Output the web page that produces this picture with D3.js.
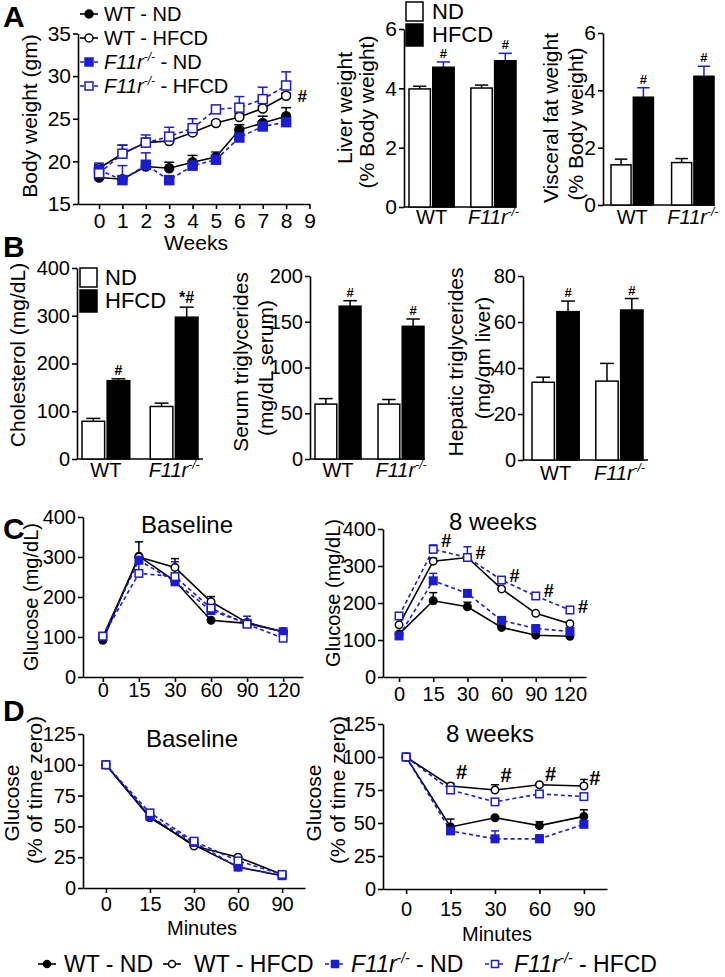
<!DOCTYPE html>
<html><head><meta charset="utf-8">
<script src="https://cdn.jsdelivr.net/npm/d3@7"></script>
<style>
html,body{margin:0;padding:0;background:#fff;}
svg{display:block;}
</style></head><body>
<svg id="fig" width="725" height="977"></svg>
<script>
// ---------------- DATA ----------------
const seriesGenotype = ["WT", "WT", "F11r", "F11r"];
const seriesDiet = ["ND", "HFCD", "ND", "HFCD"];

// Panel A: body weight over weeks
const weeks = [0, 1, 2, 3, 4, 5, 6, 7, 8];
const weekTicks = [0, 1, 2, 3, 4, 5, 6, 7, 8, 9];
const bwTicks = [15, 20, 25, 30, 35];
const bwWtNd = [18.1, 17.9, 19.4, 19.2, 19.9, 20.5, 23.7, 24.5, 25.3];
const bwWtNdErr = [0.3, 0, 0, 0.7, 0.8, 0, 0.6, 0.8, 1.0];
const bwWtHfcd = [19.2, 20.9, 22.2, 22.4, 23.4, 24.5, 25.2, 26.2, 27.7];
const bwWtHfcdErr = [0.4, 1.0, 0.5, 0.4, 0.3, 0.2, 0.4, 0.3, 0.3];
const bwKoNd = [19.0, 17.8, 19.6, 17.8, 19.5, 20.2, 22.8, 24.1, 24.6];
const bwKoNdErr = [0.6, 1.7, 1.4, 0, 0, 0.9, 0, 0.6, 0];
const bwKoHfcd = [18.6, 20.9, 22.2, 22.9, 23.9, 26.1, 26.3, 27.3, 28.9];
const bwKoHfcdErr = [1.2, 1.0, 0.9, 1.1, 1.1, 0.3, 1.3, 1.4, 1.6];

// Bar charts
const groups = ["WT", "F11r"];
const diets = ["ND", "HFCD"];
const liverTicks = [0, 2, 4, 6];
const liverNd = [3.98, 4.01], liverNdErr = [0.09, 0.10];
const liverHfcd = [4.71, 4.93], liverHfcdErr = [0.18, 0.25];
const liverSig = ["#", "#"];
const fatTicks = [0, 2, 4, 6];
const fatNd = [1.40, 1.48], fatNdErr = [0.20, 0.14];
const fatHfcd = [3.76, 4.49], fatHfcdErr = [0.33, 0.35];
const fatSig = ["#", "#"];
const cholTicks = [0, 100, 200, 300, 400];
const cholNd = [79, 110], cholNdErr = [6, 7];
const cholHfcd = [164, 297], cholHfcdErr = [4, 21];
const cholSig = ["#", "*#"];
const serumTicks = [0, 50, 100, 150, 200];
const serumNd = [60, 60], serumNdErr = [6, 5];
const serumHfcd = [167, 145], serumHfcdErr = [6, 8];
const serumSig = ["#", "#"];
const hepTicks = [0, 20, 40, 60, 80];
const hepNd = [33.8, 34.3], hepNdErr = [2.2, 7.7];
const hepHfcd = [64.5, 65.2], hepHfcdErr = [4.6, 5.0];
const hepSig = ["#", "#"];

// Panel C: glucose tolerance (mg/dL)
const gttMinutes = [0, 15, 30, 60, 90, 120];
const gttTicks = [0, 100, 200, 300, 400];
const gttBaseWtNd = [92, 302, 240, 142, 134, 113];
const gttBaseWtNdErr = [0, 36, 0, 0, 0, 0];
const gttBaseWtHfcd = [100, 300, 274, 188, 136, 113];
const gttBaseWtHfcdErr = [0, 0, 22, 13, 0, 0];
const gttBaseKoNd = [102, 292, 238, 166, 134, 113];
const gttBaseKoNdErr = [0, 10, 0, 0, 0, 0];
const gttBaseKoHfcd = [102, 259, 251, 172, 132, 97];
const gttBaseKoHfcdErr = [0, 25, 37, 0, 20, 0];
const gtt8WtNd = [116, 206, 190, 134, 113, 110];
const gtt8WtNdErr = [0, 22, 12, 0, 0, 0];
const gtt8WtHfcd = [141, 313, 323, 238, 172, 144];
const gtt8WtHfcdErr = [0, 8, 0, 0, 0, 0];
const gtt8KoNd = [111, 260, 226, 153, 131, 123];
const gtt8KoNdErr = [0, 20, 0, 0, 0, 0];
const gtt8KoHfcd = [165, 345, 323, 262, 219, 181];
const gtt8KoHfcdErr = [0, 12, 29, 8, 5, 0];
const gtt8SigLevel = [null, 368, 335, 273, 232, 189];

// Panel D: insulin tolerance (% of time zero)
const ittMinutes = [0, 15, 30, 60, 90];
const ittTicks = [0, 25, 50, 75, 100, 125];
const ittBaseWtNd = [100, 57, 35, 17, 10];
const ittBaseWtHfcd = [100, 58, 34, 25, 11];
const ittBaseKoNd = [100, 58, 37, 17, 10];
const ittBaseKoHfcd = [100, 61, 38, 22, 11];
const ittBaseErr = [0, 1, 1, 1, 1];
const itt8WtNd = [100, 47, 54, 48, 55];
const itt8WtNdErr = [0, 6, 1, 3, 5];
const itt8WtHfcd = [100, 78, 75, 79, 78];
const itt8WtHfcdErr = [0, 2, 4, 1, 5];
const itt8KoNd = [100, 44, 38, 38, 49];
const itt8KoNdErr = [0, 3, 6, 3, 1];
const itt8KoHfcd = [100, 75, 66, 72, 70];
const itt8KoHfcdErr = [0, 2, 1, 2, 1];
const itt8SigLevel = [null, 89, 86, 87, 84];

// ---------------- DRAWING ----------------
const FONT = '"Liberation Sans", Arial, Helvetica, sans-serif';
const BLUE = "#1c1cd0";
const fmt = d3.format("d");
const seriesStyle = [
  {color: "#000", dash: null, shape: "circle", filled: true},
  {color: "#000", dash: null, shape: "circle", filled: false},
  {color: BLUE, dash: "4,3", shape: "square", filled: true},
  {color: BLUE, dash: "4,3", shape: "square", filled: false}
];
const svg = d3.select("#fig").attr("font-family", FONT);

function axisStyle(g, fs) {
  g.attr("font-family", FONT).attr("font-size", fs);
  g.select(".domain").attr("stroke", "#000").attr("stroke-width", 1.6);
  g.selectAll(".tick line").attr("stroke", "#000").attr("stroke-width", 1.6);
  g.selectAll(".tick text").attr("fill", "#000");
}

function addF11r(t, fs, rest) {
  t.append("tspan").attr("font-style", "italic").text("F11r");
  t.append("tspan").attr("font-style", "italic").attr("font-size", fs * 0.6)
    .attr("dy", -fs * 0.42).text("-/-");
  if (rest) t.append("tspan").attr("dy", fs * 0.42).text(rest);
}

function marker(g, st, cx, cy, size) {
  const fill = st.filled ? st.color : "#fff";
  if (st.shape === "circle") {
    g.append("circle").attr("cx", cx).attr("cy", cy).attr("r", size / 2)
      .attr("fill", fill).attr("stroke", st.color).attr("stroke-width", 1.5);
  } else {
    g.append("rect").attr("x", cx - size / 2).attr("y", cy - size / 2)
      .attr("width", size).attr("height", size)
      .attr("fill", fill).attr("stroke", st.color).attr("stroke-width", 1.5);
  }
}

function errBar(g, x, y0, y1, cap, color) {
  g.append("line").attr("x1", x).attr("x2", x).attr("y1", y0).attr("y2", y1)
    .attr("stroke", color).attr("stroke-width", 1.5);
  g.append("line").attr("x1", x - cap / 2).attr("x2", x + cap / 2).attr("y1", y1).attr("y2", y1)
    .attr("stroke", color).attr("stroke-width", 1.5);
}

function vTitle(x, y, txt, fs) {
  svg.append("text").attr("transform", `translate(${x},${y}) rotate(-90)`)
    .attr("text-anchor", "middle").attr("font-size", fs).attr("fill", "#000").text(txt);
}
function hText(x, y, txt, fs, anchor, weight) {
  return svg.append("text").attr("x", x).attr("y", y).attr("text-anchor", anchor || "middle")
    .attr("font-size", fs).attr("font-weight", weight || "normal").attr("fill", "#000").text(txt);
}

function lineChart(o) {
  const g = svg.append("g");
  const ya = g.append("g").attr("transform", `translate(${o.x0},0)`)
    .call(d3.axisLeft(o.y).tickValues(o.yTicks).tickFormat(fmt).tickSize(5).tickPadding(2).tickSizeOuter(0));
  axisStyle(ya, o.fs);
  const xa = g.append("g").attr("transform", `translate(0,${o.y(o.yTicks[0])})`)
    .call(d3.axisBottom(o.x).tickValues(o.xTicks).tickFormat(fmt).tickSize(5).tickPadding(o.xPad).tickSizeOuter(0));
  axisStyle(xa, o.fs);
  const line = d3.line().x((d, j) => o.x(o.xVals[j])).y(d => o.y(d));
  o.series.forEach((s, i) => {
    const st = seriesStyle[i];
    g.append("path").attr("d", line(s.v)).attr("fill", "none").attr("stroke", st.color)
      .attr("stroke-width", 1.6).attr("stroke-dasharray", st.dash);
  });
  o.series.forEach((s, i) => {
    const st = seriesStyle[i];
    s.v.forEach((v, j) => {
      const e = s.e[j];
      if (e > 0) errBar(g, o.x(o.xVals[j]), o.y(v), o.y(v + e), o.cap, st.color);
    });
  });
  o.series.forEach((s, i) => {
    const st = seriesStyle[i];
    s.v.forEach((v, j) => marker(g, st, o.x(o.xVals[j]), o.y(v), o.ms));
  });
  return g;
}

function barChart(o) {
  const g = svg.append("g");
  const y = d3.scaleLinear().domain([0, o.ticks[o.ticks.length - 1]]).range([o.yb, o.yt]);
  const xb = d3.scaleBand().domain(groups).range([o.bx0, o.bx1]).paddingInner(o.pi).paddingOuter(0);
  const xi = d3.scaleBand().domain(diets).range([0, xb.bandwidth()]).paddingInner(0.1);
  const ya = g.append("g").attr("transform", `translate(${o.x0},0)`)
    .call(d3.axisLeft(y).tickValues(o.ticks).tickFormat(fmt).tickSize(5).tickPadding(2).tickSizeOuter(0));
  axisStyle(ya, o.tfs || 20);
  const xa = g.append("g").attr("transform", `translate(0,${o.yb})`)
    .call(d3.axisBottom(xb).tickSize(0).tickPadding(o.xPad));
  xa.select(".domain").attr("d", `M${o.x0},0H${o.xEnd}`);
  axisStyle(xa, 20);
  xa.selectAll(".tick text").each(function (d) {
    const t = d3.select(this);
    t.text(null);
    if (d === "WT") t.text("WT"); else addF11r(t, 20);
  });
  const vals = {ND: o.nd, HFCD: o.hf}, errs = {ND: o.ndE, HFCD: o.hfE};
  groups.forEach((gr, gi) => {
    diets.forEach(di => {
      const v = vals[di][gi], e = errs[di][gi];
      const bx = xb(gr) + xi(di), bw = xi.bandwidth();
      const ec = (di === "HFCD") ? o.hfErrColor : "#000";
      errBar(g, bx + bw / 2, y(v), y(v + e), bw * 0.62, ec);
      g.append("rect").attr("x", bx).attr("y", y(v)).attr("width", bw).attr("height", y(0) - y(v))
        .attr("fill", di === "ND" ? "#fff" : "#000").attr("stroke", "#000").attr("stroke-width", 1.5);
    });
    const hx = xb(gr) + xi("HFCD") + xi.bandwidth() / 2;
    g.append("text").attr("x", hx).attr("y", y(o.hf[gi] + o.hfE[gi]) - 4)
      .attr("text-anchor", "middle").attr("font-size", o.sigFs[gi]).attr("font-weight", "bold")
      .attr("fill", "#000").text(o.sig[gi]);
  });
  return g;
}

function barLegend(x, yND, yHF, textX, fs) {
  svg.append("rect").attr("x", x).attr("y", yND).attr("width", 17).attr("height", 19)
    .attr("fill", "#fff").attr("stroke", "#000").attr("stroke-width", 1.5);
  svg.append("rect").attr("x", x).attr("y", yHF).attr("width", 17).attr("height", 22)
    .attr("fill", "#000").attr("stroke", "#000").attr("stroke-width", 1.5);
  hText(textX, yND + 17, "ND", fs, "start");
  hText(textX, yHF + 18, "HFCD", fs, "start");
}

function legendItem(i, x, y, len, size, fs, textX) {
  const st = seriesStyle[i];
  svg.append("line").attr("x1", x).attr("x2", x + len).attr("y1", y).attr("y2", y)
    .attr("stroke", st.color).attr("stroke-width", 1.6).attr("stroke-dasharray", st.dash);
  marker(svg, st, x + len / 2, y, size);
  const t = svg.append("text").attr("x", textX).attr("y", y + fs * 0.36).attr("font-size", fs).attr("fill", "#000");
  if (seriesGenotype[i] === "WT") t.text("WT - " + seriesDiet[i]);
  else addF11r(t, fs, " - " + seriesDiet[i]);
}

// ===== Panel A: body weight =====
const xA = d3.scaleLinear().domain([-0.9, 9]).range([78, 309.5]);
const yA = d3.scaleLinear().domain([15, 35]).range([204, 33.5]);
lineChart({
  x: xA, y: yA, xVals: weeks, xTicks: weekTicks, yTicks: bwTicks, x0: 78, fs: 21, xPad: 4, ms: 9, cap: 10,
  series: [
    {v: bwWtNd, e: bwWtNdErr}, {v: bwWtHfcd, e: bwWtHfcdErr},
    {v: bwKoNd, e: bwKoNdErr}, {v: bwKoHfcd, e: bwKoHfcdErr}
  ]
});
hText(xA(8) + 16, yA(bwWtHfcd[8]) + 6, "#", 17, "middle", "bold");
vTitle(37, 116, "Body weight (gm)", 21);
hText(196, 250, "Weeks", 21);
[0, 1, 2, 3].forEach(i => legendItem(i, 80, 14 + i * 24, 18, 8, 20, 104));

barChart({x0: 404, bx0: 409, bx1: 516, xEnd: 516, pi: 0.27, yb: 207, yt: 29, ticks: liverTicks, xPad: 3, tfs: 21,
  nd: liverNd, ndE: liverNdErr, hf: liverHfcd, hfE: liverHfcdErr, sig: liverSig, sigFs: [13, 13], hfErrColor: BLUE});
vTitle(352, 108, "Liver weight", 21);
vTitle(374, 112, "(% Body weight)", 21);
barLegend(406, 2, 24, 432, 22);

barChart({x0: 603, bx0: 611, bx1: 714, xEnd: 715, pi: 0.3, yb: 205, yt: 33, ticks: fatTicks, xPad: 5, tfs: 21,
  nd: fatNd, ndE: fatNdErr, hf: fatHfcd, hfE: fatHfcdErr, sig: fatSig, sigFs: [13, 13], hfErrColor: BLUE});
vTitle(558, 118, "Visceral fat weight", 21);
vTitle(583, 124, "(% Body weight)", 21);

// ===== Panel B =====
barChart({x0: 77, bx0: 82, bx1: 198, xEnd: 203, pi: 0.3, yb: 459, yt: 268, ticks: cholTicks, xPad: 4,
  nd: cholNd, ndE: cholNdErr, hf: cholHfcd, hfE: cholHfcdErr, sig: cholSig, sigFs: [14, 16], hfErrColor: "#000"});
vTitle(25, 355, "Cholesterol (mg/dL)", 21);
barLegend(80, 268, 290, 105, 22);

barChart({x0: 310, bx0: 315, bx1: 424, xEnd: 425, pi: 0.27, yb: 459, yt: 276, ticks: serumTicks, xPad: 4,
  nd: serumNd, ndE: serumNdErr, hf: serumHfcd, hfE: serumHfcdErr, sig: serumSig, sigFs: [13, 13], hfErrColor: "#000"});
vTitle(248, 362, "Serum triglycerides", 21);
vTitle(273, 368, "(mg/dL serum)", 21);

barChart({x0: 523, bx0: 532, bx1: 643, xEnd: 648, pi: 0.26, yb: 460, yt: 276, ticks: hepTicks, xPad: 6,
  nd: hepNd, ndE: hepNdErr, hf: hepHfcd, hfE: hepHfcdErr, sig: hepSig, sigFs: [13, 13], hfErrColor: "#000"});
vTitle(463, 362, "Hepatic triglycerides", 21);
vTitle(490, 358, "(mg/gm liver)", 21);

// ===== Panel C =====
const xCb = d3.scalePoint().domain(gttMinutes).range([83, 303]).padding(0.55);
const yCb = d3.scaleLinear().domain([0, 400]).range([677, 517]);
lineChart({
  x: xCb, y: yCb, xVals: gttMinutes, xTicks: gttMinutes, yTicks: gttTicks, x0: 83, fs: 20, xPad: 1, ms: 7.5, cap: 8,
  series: [
    {v: gttBaseWtNd, e: gttBaseWtNdErr}, {v: gttBaseWtHfcd, e: gttBaseWtHfcdErr},
    {v: gttBaseKoNd, e: gttBaseKoNdErr}, {v: gttBaseKoHfcd, e: gttBaseKoHfcdErr}
  ]
});
vTitle(38, 597, "Glucose (mg/dL)", 20);
hText(187, 533, "Baseline", 24);

const xC8 = d3.scalePoint().domain(gttMinutes).range([383, 586]).padding(0.47);
const yC8 = d3.scaleLinear().domain([0, 400]).range([677, 529]);
lineChart({
  x: xC8, y: yC8, xVals: gttMinutes, xTicks: gttMinutes, yTicks: gttTicks, x0: 383, fs: 20, xPad: 5, ms: 7.5, cap: 8,
  series: [
    {v: gtt8WtNd, e: gtt8WtNdErr}, {v: gtt8WtHfcd, e: gtt8WtHfcdErr},
    {v: gtt8KoNd, e: gtt8KoNdErr}, {v: gtt8KoHfcd, e: gtt8KoHfcdErr}
  ]
});
gtt8SigLevel.forEach((lv, j) => {
  if (lv !== null) hText(xC8(gttMinutes[j]) + 13, yC8(lv) + 6, "#", 18, "middle", "bold");
});
vTitle(340, 593, "Glucose (mg/dL)", 20);
hText(493, 530, "8 weeks", 24);

// ===== Panel D =====
const xDb = d3.scalePoint().domain(ittMinutes).range([83, 305]).padding(0.52);
const yDb = d3.scaleLinear().domain([0, 125]).range([888, 734]);
lineChart({
  x: xDb, y: yDb, xVals: ittMinutes, xTicks: ittMinutes, yTicks: ittTicks, x0: 83, fs: 20, xPad: 4, ms: 7.5, cap: 8,
  series: [
    {v: ittBaseWtNd, e: ittBaseErr}, {v: ittBaseWtHfcd, e: ittBaseErr},
    {v: ittBaseKoNd, e: ittBaseErr}, {v: ittBaseKoHfcd, e: ittBaseErr}
  ]
});
vTitle(19, 803, "Glucose", 21);
vTitle(42, 790, "(% of time zero)", 21);
hText(192, 747, "Baseline", 24);
hText(202, 935, "Minutes", 20);

const xD8 = d3.scalePoint().domain(ittMinutes).range([383, 607]).padding(0.52);
const yD8 = d3.scaleLinear().domain([0, 125]).range([889, 724]);
lineChart({
  x: xD8, y: yD8, xVals: ittMinutes, xTicks: ittMinutes, yTicks: ittTicks, x0: 383, fs: 20, xPad: 8, ms: 7.5, cap: 8,
  series: [
    {v: itt8WtNd, e: itt8WtNdErr}, {v: itt8WtHfcd, e: itt8WtHfcdErr},
    {v: itt8KoNd, e: itt8KoNdErr}, {v: itt8KoHfcd, e: itt8KoHfcdErr}
  ]
});
itt8SigLevel.forEach((lv, j) => {
  if (lv !== null) hText(xD8(ittMinutes[j]) + 11, yD8(lv) + 7, "#", 20, "middle", "bold");
});
vTitle(321, 803, "Glucose", 21);
vTitle(345, 790, "(% of time zero)", 21);
hText(490, 742, "8 weeks", 24);
hText(497, 941, "Minutes", 20);

// Bottom legend
legendItem(0, 38, 964, 18, 7, 23, 64);
legendItem(1, 163, 964, 18, 7, 23, 194);
legendItem(2, 325, 964, 20, 7, 23, 351);
legendItem(3, 485, 964, 20, 7, 23, 514);

// Panel letters
hText(3, 27, "A", 30, "start", "bold");
hText(3, 257, "B", 30, "start", "bold");
hText(3, 539, "C", 30, "start", "bold");
hText(3, 721, "D", 30, "start", "bold");
</script>
</body></html>
